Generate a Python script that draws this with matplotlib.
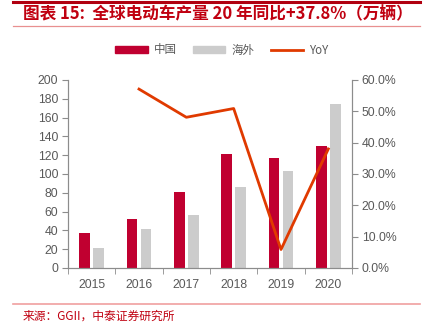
import matplotlib
matplotlib.use("Agg")
import matplotlib.pyplot as plt
from matplotlib.lines import Line2D
from matplotlib.patches import Patch
import numpy as np

plt.rcParams['font.family'] = ['Liberation Sans', 'Noto Sans CJK SC', 'DejaVu Sans']

years = ['2015', '2016', '2017', '2018', '2019', '2020']
china = [37, 52, 81, 121, 117, 130]
overseas = [21, 41, 56, 86, 103, 174]
yoy_years = ['2016', '2017', '2018', '2019', '2020']
yoy = [57.1, 48.1, 50.9, 5.9, 38.0]

c_china = '#C00030'
c_over = '#CCCCCC'
c_line = '#E03A00'
gray = '#595959'
spine_c = '#8C8C8C'

fig = plt.figure(figsize=(4.27, 3.29), dpi=100)
ax = fig.add_axes([68/427, 1-268/329, (352-68)/427, (268-80)/329])
ax2 = ax.twinx()

x = np.arange(len(years))
w = 0.225
ax.bar(x - 0.145, china, w, color=c_china, zorder=2)
ax.bar(x + 0.145, overseas, w, color=c_over, zorder=2)
xi = [years.index(y) for y in yoy_years]
ax2.plot(xi, yoy, color=c_line, lw=2.0, zorder=3)

ax.set_xlim(-0.5, 5.5)
ax.set_ylim(0, 200)
ax.set_yticks(np.arange(0, 201, 20))
ax2.set_ylim(0, 60)
ax2.set_yticks(np.arange(0, 61, 10))
ax2.set_yticklabels([f'{v:.1f}%' for v in np.arange(0, 61, 10)])

ax.set_xticks(x)
ax.set_xticklabels(years)
ax.set_xticks(np.arange(-0.5, 5.6, 1), minor=True)
ax.tick_params(axis='x', which='major', length=0, pad=8, labelsize=8.8, labelcolor=gray)
ax.tick_params(axis='x', which='minor', length=4, color=spine_c, direction='out')
ax.tick_params(axis='y', length=4, color=spine_c, labelsize=8.8, labelcolor=gray, pad=3)
ax2.tick_params(axis='y', length=4, color=spine_c, labelsize=8.8, labelcolor=gray, pad=3)

for a in (ax, ax2):
    a.spines['top'].set_visible(False)
    for s in ('left', 'right', 'bottom'):
        a.spines[s].set_color(spine_c)
        a.spines[s].set_linewidth(0.8)

handles = [Patch(color=c_china), Patch(color=c_over), Line2D([0], [0], color=c_line, lw=2)]
labels = ['中国', '海外', 'YoY']
leg = fig.legend(handles, labels, loc='center', bbox_to_anchor=(222/427, 1-50/329), ncol=3,
                 frameon=False, handlelength=2.8, handleheight=0.5,
                 columnspacing=1.4, handletextpad=0.55,
                 prop={'family': ['Noto Sans CJK SC', 'DejaVu Sans'], 'size': 8.3})
for t in leg.get_texts():
    t.set_color(gray)

# decorations
fig.add_artist(Line2D([13/427, 420/427], [1-1.5/329, 1-1.5/329], color='#B00010', lw=2.2))
fig.add_artist(Line2D([13/427, 420/427], [1-25.5/329, 1-25.5/329], color='#E89090', lw=0.9))
fig.add_artist(Line2D([13/427, 420/427], [1-304/329, 1-304/329], color='#F0A0A0', lw=1.2))

fig.text(23/427, 1-14/329, '图表 15:  全球电动车产量 20 年同比+37.8%（万辆）',
         fontsize=12, fontweight='bold', color='#C00010', va='center', ha='left',
         family=['Noto Sans CJK SC', 'DejaVu Sans'])
fig.text(23/427, 1-316/329, '来源：GGII，中泰证券研究所', fontsize=8.5, color='#C00010',
         va='center', ha='left', family=['Noto Sans CJK SC', 'DejaVu Sans'])

fig.savefig('out.png', dpi=100)
